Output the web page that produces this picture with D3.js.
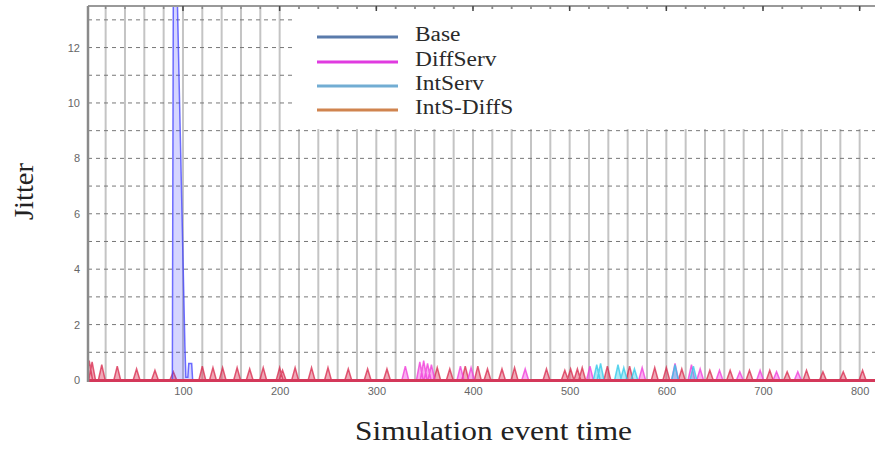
<!DOCTYPE html>
<html><head><meta charset="utf-8">
<script src="https://cdn.jsdelivr.net/npm/d3@7"></script>
<style>body{margin:0;background:#fff}svg{display:block}</style>
</head><body>
<svg id="chart" width="875" height="449"></svg>
<script>
const seriesNames = ["Base", "DiffServ", "IntServ", "IntS-DiffS"];
const legendColors = ["#5a7bab", "#e03be0", "#72add3", "#d0844f"];
const plotColors = ["#4040ff", "#f03ad8", "#30c8e8", "#d8284c"];
const xTicks = [100, 200, 300, 400, 500, 600, 700, 800];
const yTicks = [0, 2, 4, 6, 8, 10, 12];

// Base: explicit points (spike near t=90)
const baseX = [0, 89, 90, 94, 102, 103, 105, 106, 109, 110, 815];
const baseY = [0, 0, 14, 14, 1.2, 0.1, 0.1, 0.6, 0.6, 0, 0];
// Other series: peak positions and heights
const diffX = [330, 345, 349, 353, 357, 387, 398, 454, 521, 575, 609, 626, 635, 655, 676, 697, 714, 736];
const diffY = [0.5, 0.65, 0.7, 0.6, 0.55, 0.5, 0.45, 0.4, 0.5, 0.45, 0.6, 0.55, 0.4, 0.35, 0.3, 0.35, 0.3, 0.3];
const intX = [528, 532, 550, 556, 567, 609, 628];
const intY = [0.55, 0.6, 0.55, 0.45, 0.4, 0.55, 0.5];
const isdsX = [3, 6, 16, 32, 52, 71, 90, 120, 131, 141, 156, 169, 183, 200, 203, 216, 233, 250, 271, 291, 311, 363, 376, 392, 405, 415, 430, 443, 476, 495, 501, 508, 513, 539, 562, 588, 600, 616, 645, 666, 686, 707, 725, 745, 762, 783, 803];
const isdsY = [0.7, 0.65, 0.55, 0.5, 0.4, 0.35, 0.3, 0.5, 0.45, 0.45, 0.45, 0.4, 0.45, 0.45, 0.35, 0.45, 0.45, 0.45, 0.4, 0.4, 0.4, 0.45, 0.4, 0.5, 0.5, 0.4, 0.4, 0.45, 0.4, 0.35, 0.4, 0.4, 0.45, 0.5, 0.5, 0.45, 0.45, 0.4, 0.35, 0.35, 0.35, 0.35, 0.3, 0.35, 0.3, 0.3, 0.35];

const svg = d3.select("#chart");
const L = 88, R = 879, T = 6, B = 380;
const x = d3.scaleLinear().domain([1.75, 820]).range([L, R]);
const y = d3.scaleLinear().domain([0, 13.5]).range([B, T]);
const serif = "Liberation Serif, Times New Roman, serif";

svg.append("rect").attr("width", 875).attr("height", 449).attr("fill", "#fff");
svg.append("clipPath").attr("id", "clip").append("rect")
  .attr("x", L).attr("y", T).attr("width", 875 - L).attr("height", B - T + 3);

const g = svg.append("g");
// vertical grid every 20
g.selectAll(".vg").data(d3.range(20, 821, 20)).join("line")
  .attr("x1", d => x(d)).attr("x2", d => x(d)).attr("y1", T).attr("y2", B)
  .attr("stroke", "#c4c4c4").attr("stroke-width", 2);
// horizontal dashed grid every 1
g.selectAll(".hg").data(d3.range(1, 14)).join("line")
  .attr("x1", L).attr("x2", 875).attr("y1", d => y(d)).attr("y2", d => y(d))
  .attr("stroke", "#777").attr("stroke-width", 1).attr("stroke-dasharray", "4,4");

// legend box covering grid
svg.append("rect").attr("x", 292).attr("y", 9).attr("width", 583).attr("height", 120).attr("fill", "#fff");

// build series points
function peaks(xs, ys) {
  const pts = [[0, 0]];
  xs.forEach((v, i) => { pts.push([v - 3.5, 0], [v, ys[i]], [v + 3.5, 0]); });
  pts.push([815, 0]);
  return pts;
}
const seriesPts = [
  baseX.map((v, i) => [v, baseY[i]]),
  peaks(diffX, diffY),
  peaks(intX, intY),
  peaks(isdsX, isdsY)
];
const area = d3.area().x(d => x(d[0])).y0(y(0)).y1(d => y(d[1]));
const line = d3.line().x(d => x(d[0])).y(d => y(d[1]));
const plot = svg.append("g").attr("clip-path", "url(#clip)");
[3, 1, 2, 0].forEach(i => {
  plot.append("path").datum(seriesPts[i]).attr("d", area)
    .attr("fill", plotColors[i]).attr("fill-opacity", i === 0 ? 0.22 : 0.4);
  plot.append("path").datum(seriesPts[i]).attr("d", line)
    .attr("fill", "none").attr("stroke", plotColors[i]).attr("stroke-opacity", 0.75).attr("stroke-width", 1.5);
});
// baseline
plot.append("line").attr("x1", L).attr("x2", 875).attr("y1", y(0) + 0.5).attr("y2", y(0) + 0.5)
  .attr("stroke", "#d4385a").attr("stroke-width", 3);

// axes borders
svg.append("line").attr("x1", L).attr("x2", 875).attr("y1", T).attr("y2", T).attr("stroke", "#999").attr("stroke-width", 2);
svg.append("line").attr("x1", L).attr("x2", L).attr("y1", T).attr("y2", B + 2).attr("stroke", "#8a8a8a").attr("stroke-width", 2.5);
svg.selectAll(".tt").data(d3.range(20, 821, 20)).join("line")
  .attr("x1", d => x(d)).attr("x2", d => x(d)).attr("y1", T).attr("y2", d => d % 100 === 0 ? T + 5 : T + 3)
  .attr("stroke", d => d % 100 === 0 ? "#444" : "#888").attr("stroke-width", 1.5);

// x axis labels
const xAxis = d3.axisBottom(x).tickValues(xTicks).tickSize(0).tickPadding(6);
const xa = svg.append("g").attr("transform", `translate(0,${B + 1})`).call(xAxis);
xa.select(".domain").remove();
xa.selectAll("text").attr("fill", "#666").style("font-family", "Liberation Sans, Arial, sans-serif").style("font-size", "11px");
// y axis labels
const yAxis = d3.axisLeft(y).tickValues(yTicks).tickSize(0).tickPadding(8);
const ya = svg.append("g").attr("transform", `translate(${L},0)`).call(yAxis);
ya.select(".domain").remove();
ya.selectAll("text").attr("fill", "#666").style("font-family", "Liberation Sans, Arial, sans-serif").style("font-size", "11px");

// axis titles
svg.append("text").attr("x", 355).attr("y", 440)
  .style("font-family", serif).style("font-size", "27px").attr("fill", "#222")
  .attr("textLength", 277).attr("lengthAdjust", "spacingAndGlyphs")
  .text("Simulation event time");
svg.append("text").attr("transform", "translate(33,220) rotate(-90)")
  .style("font-family", serif).style("font-size", "27px").attr("fill", "#222")
  .attr("textLength", 57).attr("lengthAdjust", "spacingAndGlyphs")
  .text("Jitter");

// legend
const lg = svg.append("g");
const legY = [37, 62, 86, 110];
seriesNames.forEach((n, i) => {
  lg.append("line").attr("x1", 317).attr("x2", 398).attr("y1", legY[i]).attr("y2", legY[i])
    .attr("stroke", legendColors[i]).attr("stroke-width", 3);
  const t = lg.append("text").attr("x", 415).attr("y", legY[i] - 3).attr("dominant-baseline", "central")
    .style("font-family", serif).style("font-size", "20px").attr("fill", "#2a2a2a")
    .text(n);
  const w = t.node().getComputedTextLength();
  t.attr("textLength", w * 1.17).attr("lengthAdjust", "spacingAndGlyphs");
});
</script>
</body></html>
